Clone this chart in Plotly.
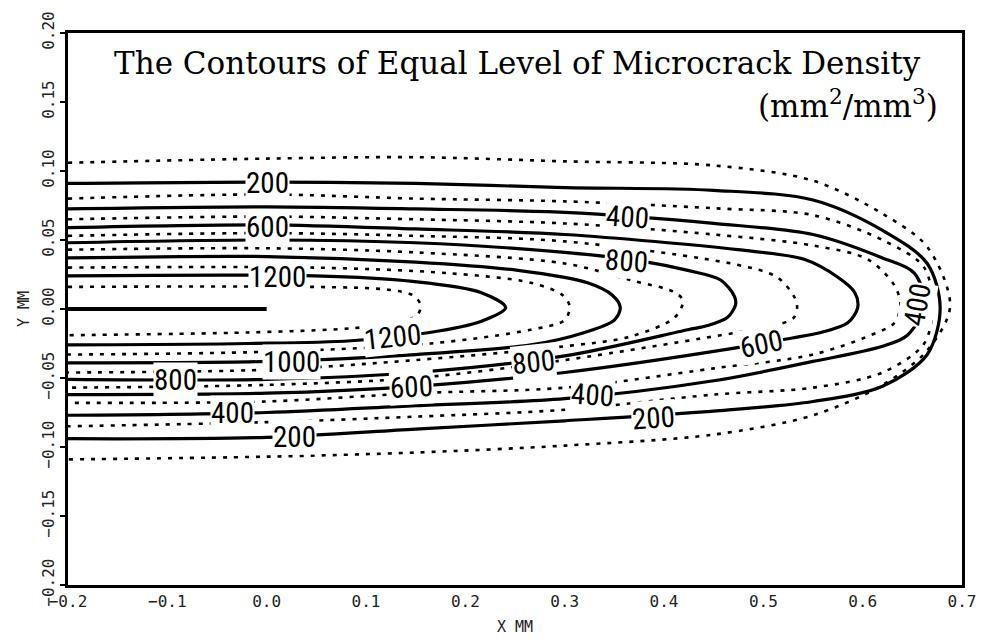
import plotly.graph_objects as go

# Contour levels of microcrack density (mm^2/mm^3); each path runs along the
# upper branch from the left edge, round the tip, and back along the lower branch.
l100_x = [-0.2, 0.0, 0.15, 0.30, 0.45, 0.55, 0.62, 0.665, 0.688, 0.665, 0.62, 0.55, 0.45, 0.30, 0.15, 0.0, -0.2]
l100_y = [0.106, 0.109, 0.110, 0.107, 0.104, 0.093, 0.069, 0.045, 0.002, -0.030, -0.055, -0.077, -0.091, -0.099, -0.104, -0.107, -0.109]

l200_x = [-0.2, 0.0, 0.15, 0.30, 0.45, 0.55, 0.62, 0.665, 0.678, 0.665, 0.62, 0.55, 0.45, 0.30, 0.15, 0.0, -0.2]
l200_y = [0.091, 0.092, 0.091, 0.088, 0.086, 0.079, 0.057, 0.033, 0.001, -0.033, -0.056, -0.067, -0.074, -0.081, -0.087, -0.093, -0.094]

l300_x = [-0.2, 0.0, 0.15, 0.30, 0.45, 0.55, 0.62, 0.662, 0.670, 0.662, 0.62, 0.55, 0.45, 0.30, 0.15, 0.0, -0.2]
l300_y = [0.080, 0.083, 0.080, 0.078, 0.073, 0.068, 0.050, 0.030, 0.001, -0.025, -0.046, -0.057, -0.062, -0.073, -0.078, -0.082, -0.085]

l400_x = [-0.2, 0.0, 0.15, 0.30, 0.45, 0.55, 0.62, 0.652, 0.662, 0.645, 0.62, 0.55, 0.45, 0.30, 0.15, 0.0, -0.2]
l400_y = [0.0725, 0.074, 0.0725, 0.070, 0.062, 0.054, 0.037, 0.026, 0.003, -0.019, -0.027, -0.038, -0.052, -0.065, -0.070, -0.075, -0.077]

l500_x = [-0.2, 0.0, 0.15, 0.30, 0.45, 0.55, 0.605, 0.632, 0.638, 0.632, 0.608, 0.55, 0.45, 0.30, 0.15, 0.0, -0.2]
l500_y = [0.065, 0.067, 0.065, 0.062, 0.054, 0.046, 0.036, 0.017, 0.003, -0.010, -0.019, -0.033, -0.043, -0.057, -0.061, -0.067, -0.068]

l600_x = [-0.2, 0.0, 0.15, 0.30, 0.474, 0.541, 0.575, 0.592, 0.595, 0.585, 0.558, 0.529, 0.474, 0.30, 0.15, 0.0, -0.2]
l600_y = [0.059, 0.061, 0.058, 0.054, 0.043, 0.036, 0.023, 0.012, 0.001, -0.010, -0.017, -0.021, -0.028, -0.046, -0.056, -0.061, -0.062]

l700_x = [-0.2, 0.0, 0.15, 0.30, 0.474, 0.514, 0.531, 0.534, 0.531, 0.507, 0.474, 0.30, 0.15, 0.0, -0.2]
l700_y = [0.053, 0.055, 0.053, 0.049, 0.032, 0.023, 0.009, 0.002, -0.006, -0.013, -0.017, -0.037, -0.050, -0.055, -0.057]

l800_x = [-0.2, 0.0, 0.15, 0.30, 0.383, 0.424, 0.457, 0.471, 0.472, 0.464, 0.444, 0.424, 0.30, 0.15, 0.0, -0.2]
l800_y = [0.048, 0.050, 0.048, 0.041, 0.034, 0.028, 0.021, 0.009, 0.003, -0.006, -0.012, -0.015, -0.034, -0.046, -0.051, -0.051]

l900_x = [-0.2, 0.0, 0.15, 0.30, 0.366, 0.411, 0.419, 0.411, 0.366, 0.30, 0.15, 0.0, -0.2]
l900_y = [0.043, 0.044, 0.041, 0.033, 0.021, 0.012, 0.006, -0.006, -0.020, -0.027, -0.037, -0.044, -0.046]

l1000_x = [-0.2, 0.0, 0.15, 0.253, 0.323, 0.348, 0.356, 0.350, 0.320, 0.266, 0.15, 0.0, -0.2]
l1000_y = [0.037, 0.038, 0.034, 0.028, 0.019, 0.010, 0.001, -0.008, -0.017, -0.026, -0.033, -0.038, -0.039]

l1100_x = [-0.2, 0.0485, 0.182, 0.266, 0.298, 0.305, 0.300, 0.266, 0.165, 0.0, -0.2]
l1100_y = [0.030, 0.030, 0.026, 0.019, 0.010, 0.002, -0.008, -0.015, -0.025, -0.031, -0.033]

l1200_x = [-0.2, 0.0485, 0.147, 0.2155, 0.2406, 0.2155, 0.164, 0.0847, -0.0189, -0.2]
l1200_y = [0.024, 0.024, 0.020, 0.012, 0.001, -0.009, -0.017, -0.023, -0.025, -0.026]

l1300_x = [-0.2, 0.0485, 0.122, 0.147, 0.155, 0.152, 0.132, 0.0847, -0.0189, -0.2]
l1300_y = [0.016, 0.016, 0.014, 0.010, 0.003, -0.004, -0.010, -0.014, -0.017, -0.019]

# Crack line along the symmetry axis
crack_x = [-0.2, 0.0]
crack_y = [0.0, 0.0]

# Inline contour labels: level value, position and text rotation
label_value = [200, 600, 1200, 400, 800,
               800, 1000, 1200, 600, 400, 200, 800, 400, 200, 600, 400]
label_x = [0.001, 0.001, 0.011, 0.363, 0.362,
           -0.092, 0.025, 0.127, 0.146, -0.034, 0.028, 0.269, 0.328, 0.389, 0.498, 0.655]
label_y = [0.0913, 0.0594, 0.0232, 0.0667, 0.0348,
           -0.0514, -0.0384, -0.0203, -0.0565, -0.0754, -0.0928, -0.0384, -0.0623, -0.079, -0.0254, 0.003]
label_angle = [0, 0, 0, 4, 4,
               0, 0, -6, -3, 0, 0, -6, 4, -4, -12, -80]

x_ticks = [-0.2, -0.1, 0.0, 0.1, 0.2, 0.3, 0.4, 0.5, 0.6, 0.7]
y_ticks = [-0.20, -0.15, -0.10, -0.05, 0.00, 0.05, 0.10, 0.15, 0.20]

contours = [
    (100, l100_x, l100_y), (200, l200_x, l200_y), (300, l300_x, l300_y),
    (400, l400_x, l400_y), (500, l500_x, l500_y), (600, l600_x, l600_y),
    (700, l700_x, l700_y), (800, l800_x, l800_y), (900, l900_x, l900_y),
    (1000, l1000_x, l1000_y), (1100, l1100_x, l1100_y),
    (1200, l1200_x, l1200_y), (1300, l1300_x, l1300_y),
]

fig = go.Figure()

for level, xs, ys in contours:
    major = level % 200 == 0
    fig.add_trace(go.Scatter(
        x=xs, y=ys, mode="lines", showlegend=False, hoverinfo="skip",
        line=dict(color="black", width=3.2 if major else 2.6,
                  dash="solid" if major else "4px,7px",
                  shape="spline", smoothing=0.9),
    ))

fig.add_trace(go.Scatter(
    x=crack_x, y=crack_y, mode="lines", showlegend=False, hoverinfo="skip",
    line=dict(color="black", width=4),
))

label_font = dict(family="Liberation Sans Narrow, Roboto Condensed, Roboto", size=29, color="black")
for val, lx, ly, ang in zip(label_value, label_x, label_y, label_angle):
    fig.add_annotation(x=lx, y=ly, text=str(val), showarrow=False, textangle=ang,
                       bgcolor="white", borderpad=0, font=label_font)

title_font = dict(family="DejaVu Serif", size=31, color="black")
fig.add_annotation(xref="paper", yref="paper", x=0.503, y=0.946,
                   text="The Contours of Equal Level of Microcrack Density",
                   showarrow=False, font=title_font, xanchor="center", yanchor="middle")
fig.add_annotation(xref="paper", yref="paper", x=0.975, y=0.872,
                   text="(mm<sup>2</sup>/mm<sup>3</sup>)",
                   showarrow=False, font=title_font, xanchor="right", yanchor="middle")

tick_font = dict(family="DejaVu Sans Mono", size=16, color="#222222")
axis_title_font = dict(family="DejaVu Sans Mono", size=15, color="#222222")
fig.update_layout(
    width=988, height=640,
    margin=dict(l=68, r=26, t=33, b=55, autoexpand=False),
    paper_bgcolor="white", plot_bgcolor="white",
    xaxis=dict(range=[-0.2, 0.7], tickvals=x_ticks, tickformat=".1f", automargin=False,
               showgrid=False, zeroline=False, showline=True, mirror=True,
               linecolor="black", linewidth=3, ticks="", tickfont=tick_font,
               title=dict(text="X MM", font=axis_title_font, standoff=12)),
    yaxis=dict(range=[-0.2, 0.2], tickvals=y_ticks, tickformat=".2f", automargin=False,
               showgrid=False, zeroline=False, showline=True, mirror=True,
               linecolor="black", linewidth=3, ticks="outside", ticklen=5,
               tickwidth=2, tickcolor="black", tickangle=-90, tickfont=tick_font,
               title=dict(text="Y MM", font=axis_title_font, standoff=6)),
)

fig.write_html("out.html")
